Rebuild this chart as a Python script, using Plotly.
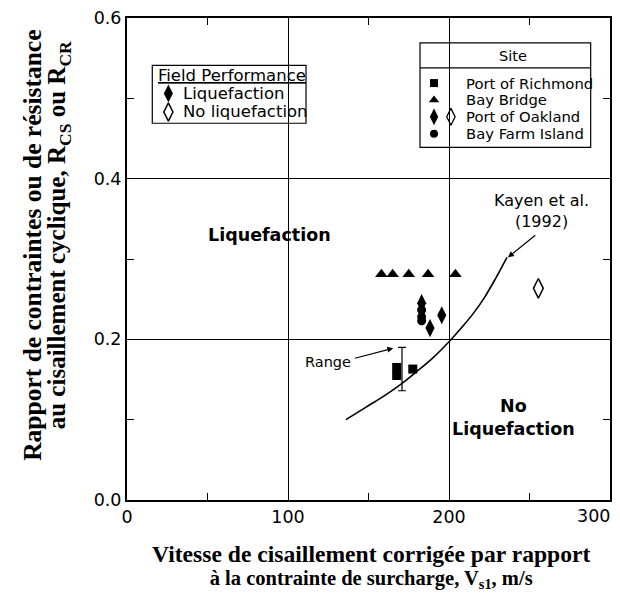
import plotly.graph_objects as go

# ---- data ----
bay_bridge_x = [158, 165, 175, 187, 204]
bay_bridge_y = [0.281, 0.281, 0.281, 0.281, 0.281]
oakland_liq_x = [183, 195.5, 188.2]
oakland_liq_y = [0.245, 0.230, 0.214]
oakland_noliq_x = [255.5]
oakland_noliq_y = [0.2635]
bayfarm_x = [183, 183, 183]
bayfarm_y = [0.2365, 0.228, 0.223]
richmond_x = [167.5, 167.5, 177.5]
richmond_y = [0.165, 0.155, 0.163]
range_x = [170.8]
range_y = [0.163]
range_err = [0.027]
kayen_x = [136, 148, 160, 170, 180, 190, 200, 208, 215, 222, 229, 236]
kayen_y = [0.10, 0.115, 0.13, 0.144, 0.16, 0.177, 0.197, 0.215, 0.232, 0.252, 0.276, 0.302]

x_ticks = [0, 100, 200, 300]
x_ticktext = ["0", "100", "200", ""]
y_ticks = [0.0, 0.2, 0.4, 0.6]
y_ticktext = ["0.0", "0.2", "0.4", "0.6"]

SANS = "DejaVu Sans, sans-serif"
SERIF = "Liberation Serif, Times New Roman, serif"
BLACK = "black"

fig = go.Figure()

fig.add_trace(go.Scatter(x=kayen_x, y=kayen_y, mode="lines", line=dict(color=BLACK, width=1.6, shape="spline"),
                         hoverinfo="skip"))
fig.add_trace(go.Scatter(x=range_x, y=range_y, mode="markers", marker=dict(size=1, color="rgba(0,0,0,0)"),
                         error_y=dict(type="data", array=range_err, visible=True, color=BLACK, thickness=1.2, width=4)))
fig.add_trace(go.Scatter(x=bay_bridge_x, y=bay_bridge_y, mode="markers",
                         marker=dict(symbol="triangle-up", size=11, color=BLACK)))
fig.add_trace(go.Scatter(x=bayfarm_x, y=bayfarm_y, mode="markers",
                         marker=dict(symbol="circle", size=9, color=BLACK)))
fig.add_trace(go.Scatter(x=oakland_liq_x, y=oakland_liq_y, mode="markers",
                         marker=dict(symbol="diamond-tall", size=13, color=BLACK)))
fig.add_trace(go.Scatter(x=oakland_noliq_x, y=oakland_noliq_y, mode="markers",
                         marker=dict(symbol="diamond-tall-open", size=14, color=BLACK, line=dict(width=1.5))))
fig.add_trace(go.Scatter(x=richmond_x, y=richmond_y, mode="markers",
                         marker=dict(symbol="square", size=9, color=BLACK)))

# legend symbols (decorative)
fig.add_trace(go.Scatter(x=[25.7], y=[0.506], mode="markers", marker=dict(symbol="diamond-tall", size=13, color=BLACK)))
fig.add_trace(go.Scatter(x=[25.7], y=[0.483], mode="markers",
                         marker=dict(symbol="diamond-tall-open", size=13, color=BLACK, line=dict(width=1.5))))
fig.add_trace(go.Scatter(x=[190.7], y=[0.519], mode="markers", marker=dict(symbol="square", size=8, color=BLACK)))
fig.add_trace(go.Scatter(x=[190.7], y=[0.498], mode="markers", marker=dict(symbol="triangle-up", size=9, color=BLACK)))
fig.add_trace(go.Scatter(x=[190.7], y=[0.477], mode="markers", marker=dict(symbol="diamond-tall", size=12, color=BLACK)))
fig.add_trace(go.Scatter(x=[201.2], y=[0.477], mode="markers",
                         marker=dict(symbol="diamond-tall-open", size=12, color=BLACK, line=dict(width=1.3))))
fig.add_trace(go.Scatter(x=[190.7], y=[0.456], mode="markers", marker=dict(symbol="circle", size=8, color=BLACK)))

shapes = [
    dict(type="rect", xref="x", yref="y", x0=15.7, x1=111.2, y0=0.469, y1=0.541,
         line=dict(color=BLACK, width=1.2), fillcolor="white", layer="below"),
    dict(type="rect", xref="x", yref="y", x0=182, x1=288, y0=0.439, y1=0.569,
         line=dict(color=BLACK, width=1.2), fillcolor="white", layer="below"),
    dict(type="line", xref="x", yref="y", x0=182, x1=288, y0=0.538, y1=0.538,
         line=dict(color=BLACK, width=1.2)),
]

def txt(x, y, s, size, anchor="center", family=SANS):
    return dict(x=x, y=y, xref="x", yref="y", text=s, showarrow=False, xanchor=anchor,
                font=dict(family=family, size=size, color=BLACK))

def ptxt(x, y, s, size, angle=0, family=SERIF, xshift=0):
    return dict(x=x, y=y, xref="paper", yref="paper", text=s, showarrow=False, xanchor="center",
                yanchor="middle", textangle=angle, xshift=xshift, font=dict(family=family, size=size, color=BLACK))

annotations = [
    txt(17.8, 0.529, "<u>Field Performance</u>", 16.5, "left"),
    txt(33.4, 0.506, "Liquefaction", 16.5, "left"),
    txt(33.4, 0.483, "No liquefaction", 16.5, "left"),
    txt(239.5, 0.553, "Site", 14.5),
    txt(209.5, 0.519, "Port of Richmond", 14.8, "left"),
    txt(209.5, 0.498, "Bay Bridge", 14.8, "left"),
    txt(209.5, 0.477, "Port of Oakland", 14.8, "left"),
    txt(209.5, 0.456, "Bay Farm Island", 14.8, "left"),
    txt(88.8, 0.33, "<b>Liquefaction</b>", 17.5),
    txt(240, 0.103, "<b>No<br>Liquefaction</b>", 17.5),
    txt(257.5, 0.36, "Kayen et al.<br>(1992)", 16),
    dict(x=236.6, y=0.302, ax=254.5, ay=0.331, xref="x", yref="y", axref="x", ayref="y", text="",
         showarrow=True, arrowhead=2, arrowsize=1, arrowwidth=1.2, arrowcolor=BLACK),
    txt(125, 0.172, "Range", 14.5),
    dict(x=165.4, y=0.189, ax=140.6, ay=0.176, xref="x", yref="y", axref="x", ayref="y", text="",
         showarrow=True, arrowhead=2, arrowsize=1, arrowwidth=1.2, arrowcolor=BLACK),
    # last x tick label, kept inside the page
    dict(x=1, y=0, xref="paper", yref="paper", text="300", showarrow=False, xanchor="right", yanchor="top",
         xshift=2, yshift=-4, font=dict(family=SANS, size=17.5, color=BLACK)),
    # axis titles
    ptxt(0.505, -0.137,
         "<span style='font-size:23.6px'><b>Vitesse de cisaillement corrigée par rapport</b></span><br>"
         "<span style='font-size:20.5px'><b>à la contrainte de surcharge, V<sub>s1</sub>, m/s</b></span>", 17.7),
    ptxt(-0.1960, 0.528, "<b>Rapport de contraintes ou de résistance</b>", 25.5, angle=-90),
    ptxt(-0.1400, 0.55, "<b>au cisaillement cyclique, R<sub>CS</sub> ou R<sub>CR</sub></b>", 25, angle=-90),
]

# The page adds an 8px body margin; the figure is sized so it fits the window without overflow,
# and the plot area lands at page x 127..610, y 18..500.
fig.update_layout(
    width=604, height=583,
    margin=dict(l=119, r=2, t=10, b=91, autoexpand=False),
    paper_bgcolor="white", plot_bgcolor="white",
    showlegend=False,
    shapes=shapes, annotations=annotations,
    font=dict(family=SANS, size=16, color=BLACK),
)
fig.update_xaxes(range=[0, 300], tickvals=x_ticks, ticktext=x_ticktext, ticks="inside", ticklen=6, tickcolor=BLACK,
                 showline=True, linecolor=BLACK, linewidth=2, mirror="ticks", automargin=False,
                 showgrid=True, gridcolor=BLACK, gridwidth=1, zeroline=False,
                 minor=dict(dtick=50, ticks="inside", ticklen=7, tickcolor=BLACK, showgrid=False),
                 tickfont=dict(family=SANS, size=17.5, color=BLACK))
fig.update_yaxes(range=[0, 0.6], tickvals=y_ticks, ticktext=y_ticktext,
                 ticks="inside", ticklen=6, tickcolor=BLACK, automargin=False, ticklabeloverflow="allow",
                 showline=True, linecolor=BLACK, linewidth=2, mirror="ticks",
                 showgrid=True, gridcolor=BLACK, gridwidth=1, zeroline=False,
                 minor=dict(dtick=0.1, ticks="inside", ticklen=7, tickcolor=BLACK, showgrid=False),
                 tickfont=dict(family=SANS, size=17.5, color=BLACK))

fig.write_html("out.html")
